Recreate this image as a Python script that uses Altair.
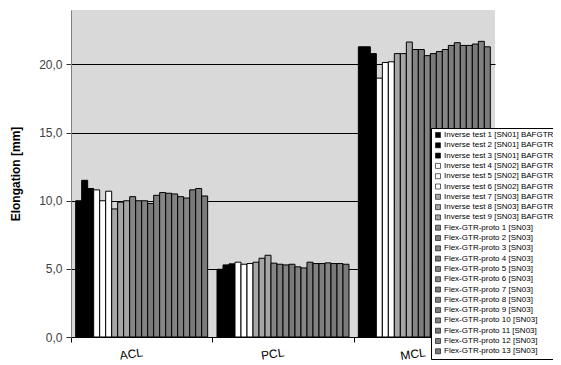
import altair as alt
import pandas as pd

categories = ["ACL", "PCL", "MCL"]

series = [
    "Inverse test 1 [SN01] BAFGTR1-I1",
    "Inverse test 2 [SN01] BAFGTR1-I2",
    "Inverse test 3 [SN01] BAFGTR1-I3",
    "Inverse test 4 [SN02] BAFGTR2-I1",
    "Inverse test 5 [SN02] BAFGTR2-I2",
    "Inverse test 6 [SN02] BAFGTR2-I3",
    "Inverse test 7 [SN03] BAFGTR3-I1",
    "Inverse test 8 [SN03] BAFGTR3-I2",
    "Inverse test 9 [SN03] BAFGTR3-I3",
    "Flex-GTR-proto 1 [SN03]",
    "Flex-GTR-proto 2 [SN03]",
    "Flex-GTR-proto 3 [SN03]",
    "Flex-GTR-proto 4 [SN03]",
    "Flex-GTR-proto 5 [SN03]",
    "Flex-GTR-proto 6 [SN03]",
    "Flex-GTR-proto 7 [SN03]",
    "Flex-GTR-proto 8 [SN03]",
    "Flex-GTR-proto 9 [SN03]",
    "Flex-GTR-proto 10 [SN03]",
    "Flex-GTR-proto 11 [SN03]",
    "Flex-GTR-proto 12 [SN03]",
    "Flex-GTR-proto 13 [SN03]",
]

acl = [10.0, 11.5, 10.9, 10.8, 10.0, 10.7, 9.4, 9.9, 10.0,
       10.3, 10.0, 10.0, 9.8, 10.4, 10.6, 10.55, 10.5, 10.3, 10.2, 10.8, 10.9, 10.35]
pcl = [4.97, 5.29, 5.37, 5.49, 5.34, 5.39, 5.49, 5.78, 6.0,
       5.42, 5.34, 5.29, 5.34, 5.15, 5.07, 5.49, 5.39, 5.39, 5.44, 5.39, 5.39, 5.34]
mcl = [21.3, 21.3, 20.8, 19.0, 20.15, 20.2, 20.8, 20.8, 21.65,
       21.1, 21.1, 20.65, 20.8, 20.95, 21.1, 21.4, 21.6, 21.4, 21.4, 21.5, 21.7, 21.3]

colors = ["#000000", "#000000", "#000000",
          "#ffffff", "#ffffff", "#ffffff",
          "#a6a6a6", "#a6a6a6", "#a6a6a6",
          "#858585", "#7d7d7d", "#838383", "#7a7a7a", "#808080", "#868686", "#7c7c7c",
          "#828282", "#7e7e7e", "#848484", "#797979", "#818181", "#7b7b7b"]

rows = []
for cat, vals in zip(categories, [acl, pcl, mcl]):
    for s, v in zip(series, vals):
        rows.append({"cat": cat, "series": s, "value": v})
df = pd.DataFrame(rows)

chart = alt.Chart(df).mark_bar(stroke="black", strokeWidth=1).encode(
    x=alt.X("cat:N", sort=categories,
            scale=alt.Scale(paddingInner=0, paddingOuter=0),
            axis=alt.Axis(title=None, tickBand="extent", tickSize=5, tickColor="black",
                          domainColor="black", labelAngle=352, labelFontSize=12,
                          labelColor="black", labelPadding=5,
                          labelAlign="right", labelBaseline="top")),
    xOffset=alt.XOffset("series:N", sort=series,
                        scale=alt.Scale(paddingInner=0, paddingOuter=0.78)),
    y=alt.Y("value:Q", scale=alt.Scale(domain=[0, 24], nice=False),
            axis=alt.Axis(title="Elongation [mm]", values=[0, 5, 10, 15, 20],
                          labelExpr="replace(format(datum.value, '.1f'), '.', ',')",
                          grid=True, gridColor="black", gridWidth=1,
                          domainColor="#808080", tickColor="#333333", tickSize=5,
                          labelFontSize=12, labelColor="#404040", labelPadding=4,
                          titleFontSize=12, titleFontWeight="bold", titleColor="black",
                          titlePadding=16)),
    color=alt.Color("series:N", sort=series,
                    scale=alt.Scale(domain=series, range=colors),
                    legend=alt.Legend(orient="none", legendX=360, legendY=118, title=None,
                                      symbolType="square", symbolSize=25,
                                      symbolStrokeColor="black", symbolStrokeWidth=0.6,
                                      labelFontSize=8, labelLimit=400, labelColor="black",
                                      labelOffset=2, rowPadding=2.3, padding=3,
                                      fillColor="white", strokeColor="black")),
).properties(
    width=424,
    height=327,
    autosize=alt.AutoSizeParams(type="none"),
    padding={"left": 63, "top": 2, "right": 58, "bottom": 28},
).configure(
    font="Liberation Sans",
).configure_view(
    fill="#d9d9d9", stroke=None,
)

chart.save("out.html", embed_options={"renderer": "svg", "actions": False})
